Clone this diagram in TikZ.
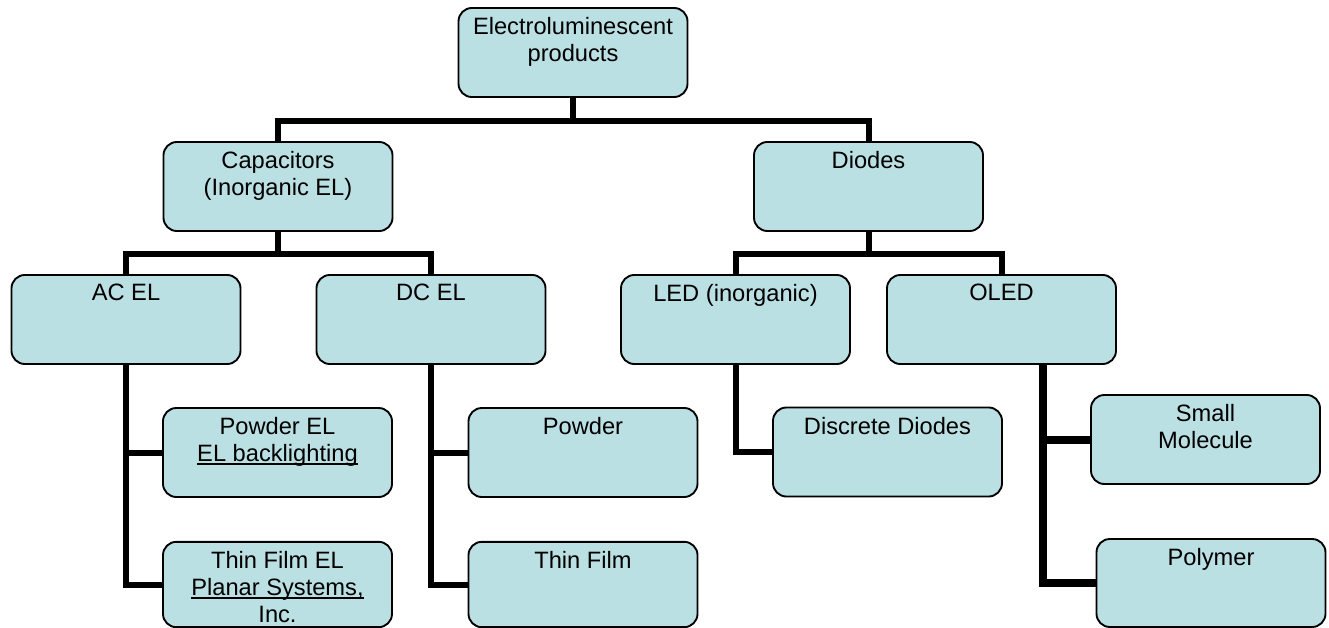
\documentclass[tikz,border=0pt]{standalone}
\usepackage{fontspec}
\setmainfont{Liberation Sans}
\usepackage{xcolor}
\definecolor{elfill}{RGB}{187,224,227}
\newcommand{\elunder}[1]{\setbox0\hbox{#1}\rlap{\rule[-2.4pt]{\wd0}{1pt}}\box0}

\begin{document}
\begin{tikzpicture}[x=0.75pt,y=-0.75pt,
  elbox/.style={draw=black, line width=1.4pt, fill=elfill, rounded corners=10pt,
    minimum width=171.75pt, minimum height=66.75pt, inner sep=0pt},
  lowbox/.style={elbox, minimum height=64pt},
  eltext/.style={anchor=north, align=center, inner sep=0pt, yshift=-7.6pt,
    font=\fontsize{17.75}{20.25}\selectfont},
  conn/.style={line width=4.5pt}]
\useasboundingbox (0,0) rectangle (1329,628);

\node[elbox] (root) at (573,52.5) {};
\node[elbox] (cap) at (278,186.5) {};
\node[elbox] (diodes) at (868.5,186.5) {};
\node[elbox] (acel) at (126,319.5) {};
\node[elbox] (dcel) at (431,319.5) {};
\node[elbox] (led) at (735.5,319.5) {};
\node[elbox] (oled) at (1001.5,319.5) {};
\node[elbox] (powderel) at (277.5,452.5) {};
\node[lowbox] (thinfilmel) at (277.5,584.5) {};
\node[elbox] (powder) at (583,452.5) {};
\node[lowbox] (thinfilm) at (583,584.5) {};
\node[elbox] (discrete) at (887.5,452) {};
\node[elbox] (smallmol) at (1205.5,439.5) {};
\node[elbox, minimum height=66pt] (polymer) at (1211,583) {};

\node[eltext] (rootlbl) at (root.north) {Electroluminescent\\products};
\node[eltext] (caplbl) at (cap.north) {Capacitors\\(Inorganic EL)};
\node[eltext] (diodeslbl) at (diodes.north) {Diodes};
\node[eltext] (acellbl) at (acel.north) {AC EL};
\node[eltext] (dcellbl) at (dcel.north) {DC EL};
\node[eltext] (ledlbl) at (led.north) {LED (inorganic)};
\node[eltext] (oledlbl) at (oled.north) {OLED};
\node[eltext] (powderellbl) at (powderel.north) {Powder EL\\\elunder{EL backlighting}};
\node[eltext] (thinfilmellbl) at (thinfilmel.north) {Thin Film EL\\\elunder{Planar Systems,}\\Inc.};
\node[eltext] (powderlbl) at (powder.north) {Powder};
\node[eltext] (thinfilmlbl) at (thinfilm.north) {Thin Film};
\node[eltext] (discretelbl) at (discrete.north) {Discrete Diodes};
\node[eltext] (smallmollbl) at (smallmol.north) {Small\\Molecule};
\node[eltext] (polymerlbl) at (polymer.north) {Polymer};

\draw[conn] (root.south) -- ++(0,23) -| (cap.north);
\draw[conn] (root.south) -- ++(0,23) -| (diodes.north);
\draw[conn] (cap.south) -- ++(0,22) -| (acel.north);
\draw[conn] (cap.south) -- ++(0,22) -| (dcel.north);
\draw[conn] (diodes.south) -- ++(0,22) -| (led.north);
\draw[conn] (diodes.south) -- ++(0,22) -| (oled.north);
\draw[conn] (acel.south) |- (powderel.west);
\draw[conn] (acel.south) |- (thinfilmel.west);
\draw[conn] (dcel.south) |- (powder.west);
\draw[conn] (dcel.south) |- (thinfilm.west);
\draw[conn] (led.south) |- (discrete.west);
\draw[conn, line width=6pt] ([xshift=31pt]oled.south) |- (smallmol.west);
\draw[conn, line width=6pt] ([xshift=31pt]oled.south) |- (polymer.west);
\end{tikzpicture}
\end{document}
